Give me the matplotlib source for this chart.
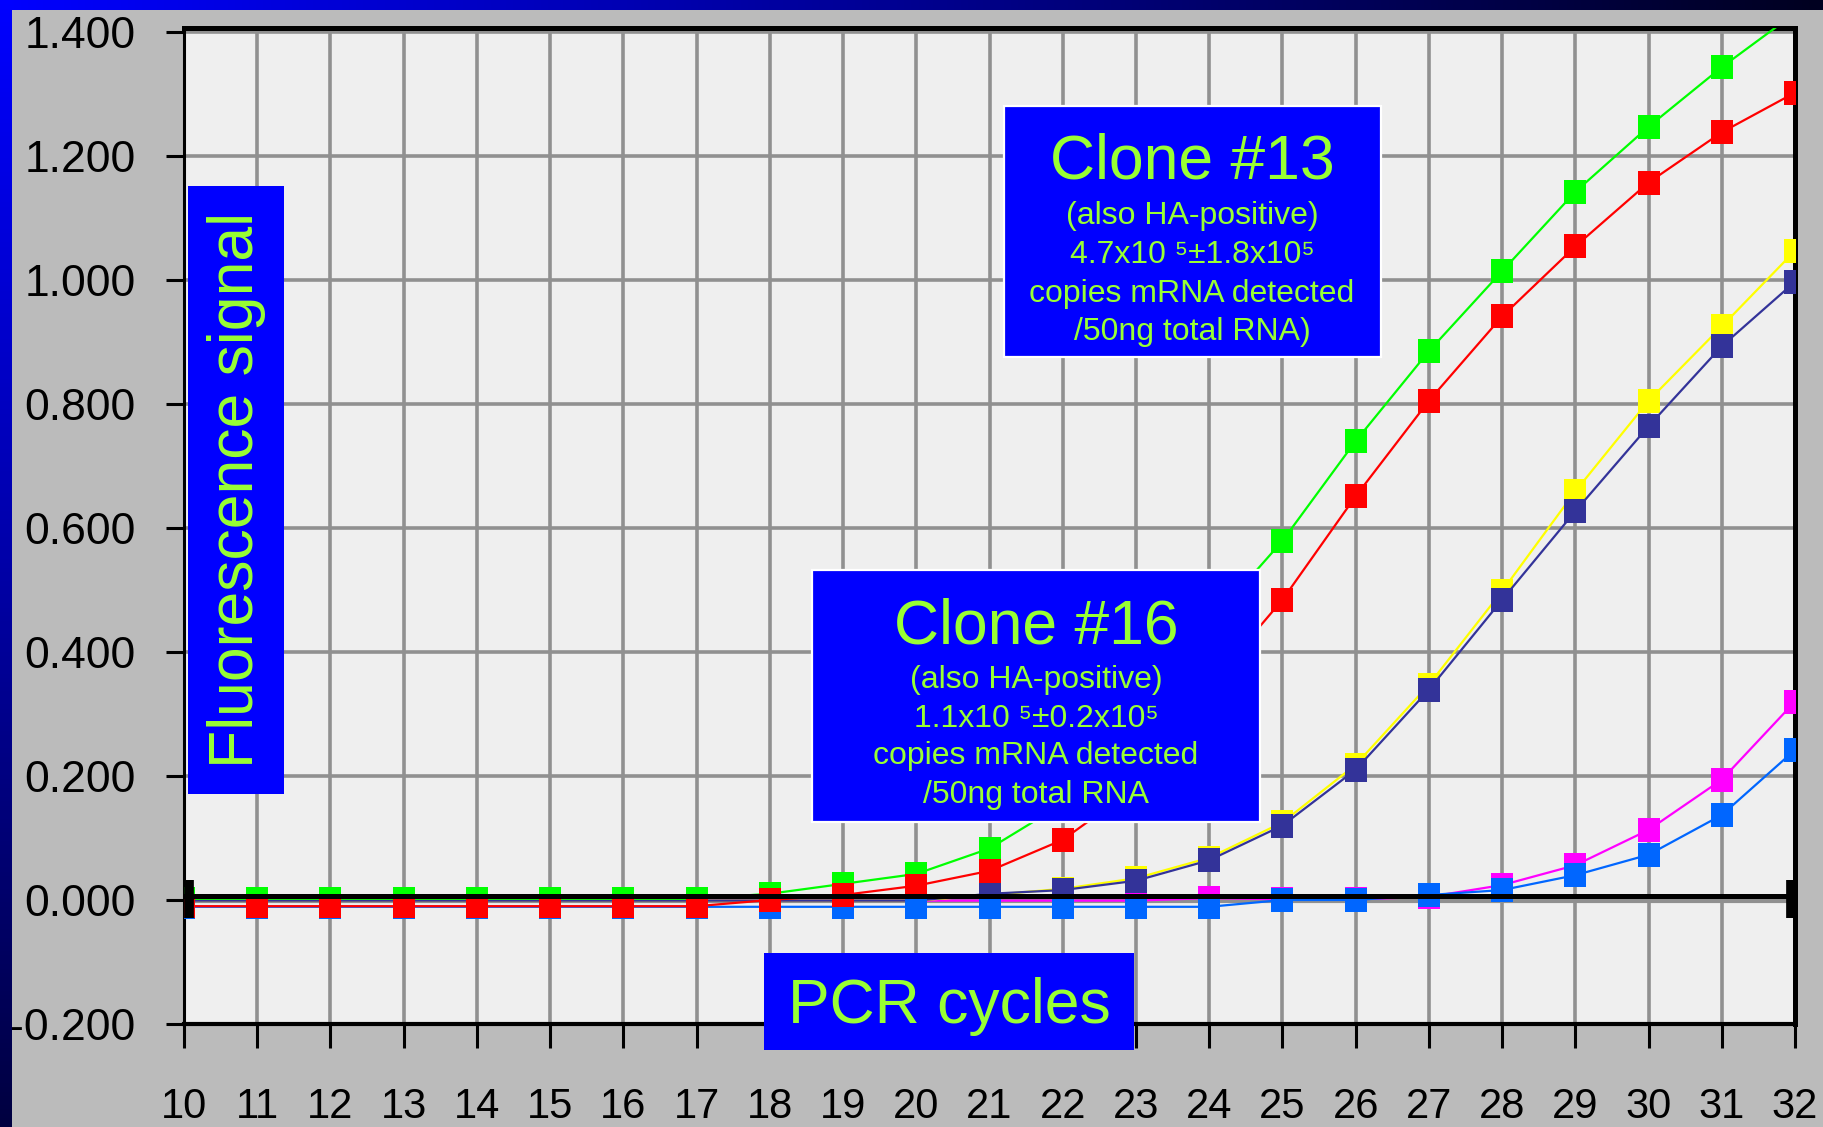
import numpy as np
import matplotlib.pyplot as plt
from matplotlib.colors import LinearSegmentedColormap
from matplotlib.patches import Rectangle

plt.rcParams['font.family'] = ['Liberation Sans', 'DejaVu Sans']
plt.rcParams['axes.unicode_minus'] = False

W, H = 1823, 1127

# PCR cycle number on x, fluorescence on y
cycles = list(range(10, 33))
y_ticks = [-0.2, 0.0, 0.2, 0.4, 0.6, 0.8, 1.0, 1.2, 1.4]

green = [0.002, 0.002, 0.002, 0.002, 0.002, 0.002, 0.002, 0.002,
         0.010, 0.026, 0.042, 0.083, 0.155, 0.290, 0.445, 0.579,
         0.740, 0.885, 1.014, 1.142, 1.247, 1.343, 1.430]
red = [-0.010, -0.010, -0.010, -0.010, -0.010, -0.010, -0.010, -0.010,
       0.000, 0.008, 0.023, 0.047, 0.097, 0.182, 0.345, 0.484,
       0.651, 0.805, 0.941, 1.054, 1.157, 1.238, 1.302]
yellow = [-0.001, -0.001, -0.001, -0.001, -0.001, -0.001, -0.001, -0.001,
          -0.001, -0.001, -0.001, 0.008, 0.018, 0.035, 0.068, 0.125,
          0.218, 0.347, 0.498, 0.659, 0.805, 0.925, 1.047]
navy = [-0.001, -0.001, -0.001, -0.001, -0.001, -0.001, -0.001, -0.001,
        -0.001, -0.001, -0.001, 0.010, 0.016, 0.031, 0.064, 0.120,
        0.210, 0.339, 0.484, 0.627, 0.764, 0.893, 0.997]
magenta = [-0.001, -0.001, -0.001, -0.001, -0.001, -0.001, -0.001, -0.001,
           -0.001, -0.001, -0.001, -0.001, -0.001, -0.001, 0.003, 0.001,
           0.001, 0.005, 0.024, 0.056, 0.113, 0.194, 0.320]
blue = [-0.011, -0.011, -0.011, -0.011, -0.011, -0.011, -0.011, -0.011,
        -0.011, -0.011, -0.011, -0.011, -0.011, -0.011, -0.011, 0.000,
        0.000, 0.008, 0.016, 0.040, 0.073, 0.137, 0.242]

# drawing order bottom -> top, as seen where the curves overlap
series = [
    (magenta, '#FF00FF'),
    (yellow, '#FFFF00'),
    (navy, '#333399'),
    (green, '#00FF00'),
    (blue, '#0066FF'),
    (red, '#FF0000'),
]

txt_col = '#99FF33'
box_col = '#0000FF'

fig = plt.figure(figsize=(W / 100, H / 100), dpi=100, facecolor='#BBBBBB')
ax = fig.add_axes([184 / W, 1 - 1024 / H, (1795 - 184) / W, (1024 - 27.5) / H])
ax.set_facecolor('#EFEFEF')
ax.set_xlim(10, 32)
ax.set_ylim(-0.2, 1.407)
ax.set_xticks(cycles)
ax.set_yticks(y_ticks)
ax.set_yticklabels(['%.3f' % v for v in y_ticks])
ax.set_axisbelow(True)
ax.grid(color='#909090', lw=2.6)

for side, lw in [('top', 3.6), ('right', 3.6), ('left', 2.2), ('bottom', 3.0)]:
    ax.spines[side].set_linewidth(lw)
    ax.spines[side].set_color('black')

ax.tick_params(axis='y', direction='out', length=13, width=2.2, pad=22,
               labelsize=32, colors='black')
ax.tick_params(axis='x', direction='out', length=17, width=2.2, pad=28,
               labelsize=30, colors='black')

# grey baseline trace under everything
ax.axhline(-0.001, color='#909090', lw=3, zorder=2.9)

marker = [(-0.875, -1), (0.875, -1), (0.875, 1), (-0.875, 1)]
for i, (vals, col) in enumerate(series):
    ax.plot(cycles, vals, color=col, lw=1.6, marker=marker, markersize=17.3,
            markeredgewidth=0, zorder=3 + i * 0.1)

# thick zero line with end caps
ax.axhline(0.007, color='black', lw=3.6, zorder=9)
x0, x1 = ax.get_xlim()
ax.vlines([x0 + 0.07, x1 - 0.06], -0.029, 0.032, color='black', lw=7, zorder=9.5)


def fxy(px, py):
    return px / W, 1 - py / H


def box(x0, y0, x1, y1, edge=None):
    bx, by = fxy(x0, y1)
    r = Rectangle((bx, by), (x1 - x0) / W, (y1 - y0) / H, transform=fig.transFigure,
                  facecolor=box_col, edgecolor=edge if edge else box_col,
                  lw=1.6 if edge else 0, zorder=10, clip_on=False)
    ax.add_patch(r)


def label(px, py, s, size, **kw):
    ax.text(*fxy(px, py), s, transform=fig.transFigure, color=txt_col, fontsize=size,
            ha='center', zorder=11, clip_on=False, **kw)


# axis titles in blue boxes
box(188, 186, 284, 794)
label(237, 490, 'Fluorescence signal', 45, rotation=90, va='center')
box(764, 953, 1134, 1050)
label(949, 1023, 'PCR cycles', 45, va='baseline')

# clone annotations
box(1004, 106, 1381, 357, edge='white')
label(1192, 179, 'Clone #13', 45, va='baseline')
c13_lines = ['(also HA-positive)', '4.7x10 \u2075\u00b11.8x10\u2075',
             'copies mRNA detected', '/50ng total RNA)']
for yy, s in zip([224, 263, 302, 340], c13_lines):
    label(1192, yy, s, 23, va='baseline')

box(812, 570, 1260, 822, edge='white')
label(1036, 643, 'Clone #16', 45, va='baseline')
c16_lines = ['(also HA-positive)', '1.1x10 \u2075\u00b10.2x10\u2075',
             'copies mRNA detected', '/50ng total RNA']
for yy, s in zip([688, 727, 764, 803], c16_lines):
    label(1036, yy, s, 23, va='baseline')

# slide frame: blue gradients along top and left edges
top = fig.add_axes([0, 1 - 10 / H, 1, 10 / H])
top.imshow(np.linspace(0, 1, 256)[None, :], aspect='auto',
           cmap=LinearSegmentedColormap.from_list('t', ['#0000FF', '#000090', '#000020']))
top.axis('off')
left = fig.add_axes([0, 0, 12 / W, 1])
left.imshow(np.linspace(0, 1, 256)[:, None], aspect='auto',
            cmap=LinearSegmentedColormap.from_list('l', ['#0000FF', '#0000A8', '#000040']))
left.axis('off')

fig.savefig('out.png', dpi=100, facecolor=fig.get_facecolor())
